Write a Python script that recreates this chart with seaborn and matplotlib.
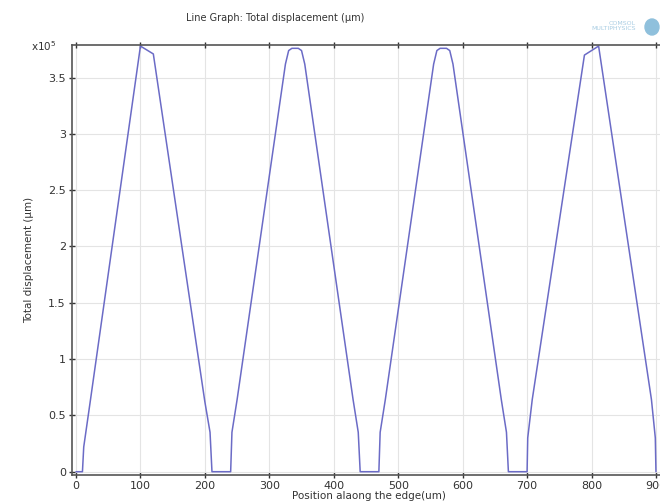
import matplotlib
matplotlib.use("Agg")
import matplotlib.pyplot as plt
import seaborn as sns
import pandas as pd

# Position along the edge (um)
position = [0, 10, 12, 22, 100, 120, 200, 208, 211, 240, 242, 250,
            325, 330, 335, 345, 350, 355, 430, 438, 441, 470, 472, 480,
            555, 560, 565, 575, 580, 585, 660, 668, 671, 700, 701, 708,
            789, 811, 893, 899, 900]
# Total displacement (x1e5 um)
displacement_e5 = [0, 0, 0.22, 0.62, 3.78, 3.71, 0.62, 0.35, 0, 0, 0.35, 0.64,
                   3.62, 3.74, 3.76, 3.76, 3.74, 3.62, 0.64, 0.35, 0, 0, 0.35, 0.64,
                   3.62, 3.74, 3.76, 3.76, 3.74, 3.62, 0.64, 0.35, 0, 0, 0.30, 0.64,
                   3.70, 3.78, 0.64, 0.30, 0]
x_ticks = [0, 100, 200, 300, 400, 500, 600, 700, 800, 900]
y_ticks = [0, 0.5, 1, 1.5, 2, 2.5, 3, 3.5]
y_tick_labels = ["0", "0.5", "1", "1.5", "2", "2.5", "3", "3.5"]

sns.set_style("whitegrid")
plt.rcParams['font.family'] = ['DejaVu Sans']

df = pd.DataFrame({"pos": position, "disp": displacement_e5})

fig = plt.figure(figsize=(6.6, 5.01), dpi=100)
ax = fig.add_axes([72/660, 26/501, (665-72)/660, (475-44.7)/501])
sns.lineplot(data=df, x="pos", y="disp", ax=ax, color="#6b6bc6", linewidth=1.1)

ax.set_xlim((72-76)/0.6444, (665-76)/0.6444)
ax.set_ylim((471.7-475)/112.6, (471.7-44.7)/112.6)
ax.set_xticks(x_ticks)
ax.set_yticks(y_ticks)
ax.set_yticklabels(y_tick_labels)
ax.grid(True, color="#e4e4e4", linewidth=0.8)
for s in ax.spines.values():
    s.set_color("#555555")
    s.set_linewidth(1.2)
ax.spines['right'].set_visible(False)
ax.tick_params(axis='both', which='both', direction='inout', length=5, width=1,
               color="#333333", labelsize=8, labelcolor="#333333",
               top=True, bottom=True, left=True, right=False, pad=2)
ax.set_xlabel("Position alaong the edge(um)", fontsize=7.5, color="#333333", labelpad=0)
ax.set_ylabel("Total displacement (\u00b5m)", fontsize=7.5, color="#333333", labelpad=10)

fig.text(275/660, 1 - 18/501, "Line Graph: Total displacement (\u00b5m)",
         ha="center", va="center", fontsize=7, color="#333333")
fig.text(31/660, 1 - 46/501, "x10$^5$", ha="left", va="center", fontsize=7.5, color="#333333")
fig.text(636/660, 1 - 26/501, "COMSOL\nMULTIPHYSICS", ha="right", va="center",
         fontsize=4.5, color="#a9cde3", linespacing=1.0)
fig.patches.append(matplotlib.patches.Ellipse((652/660, 1 - 27/501), 14/660, 16/501,
                   transform=fig.transFigure, color="#8fc0dc", figure=fig))

fig.savefig("out.png", dpi=100)
